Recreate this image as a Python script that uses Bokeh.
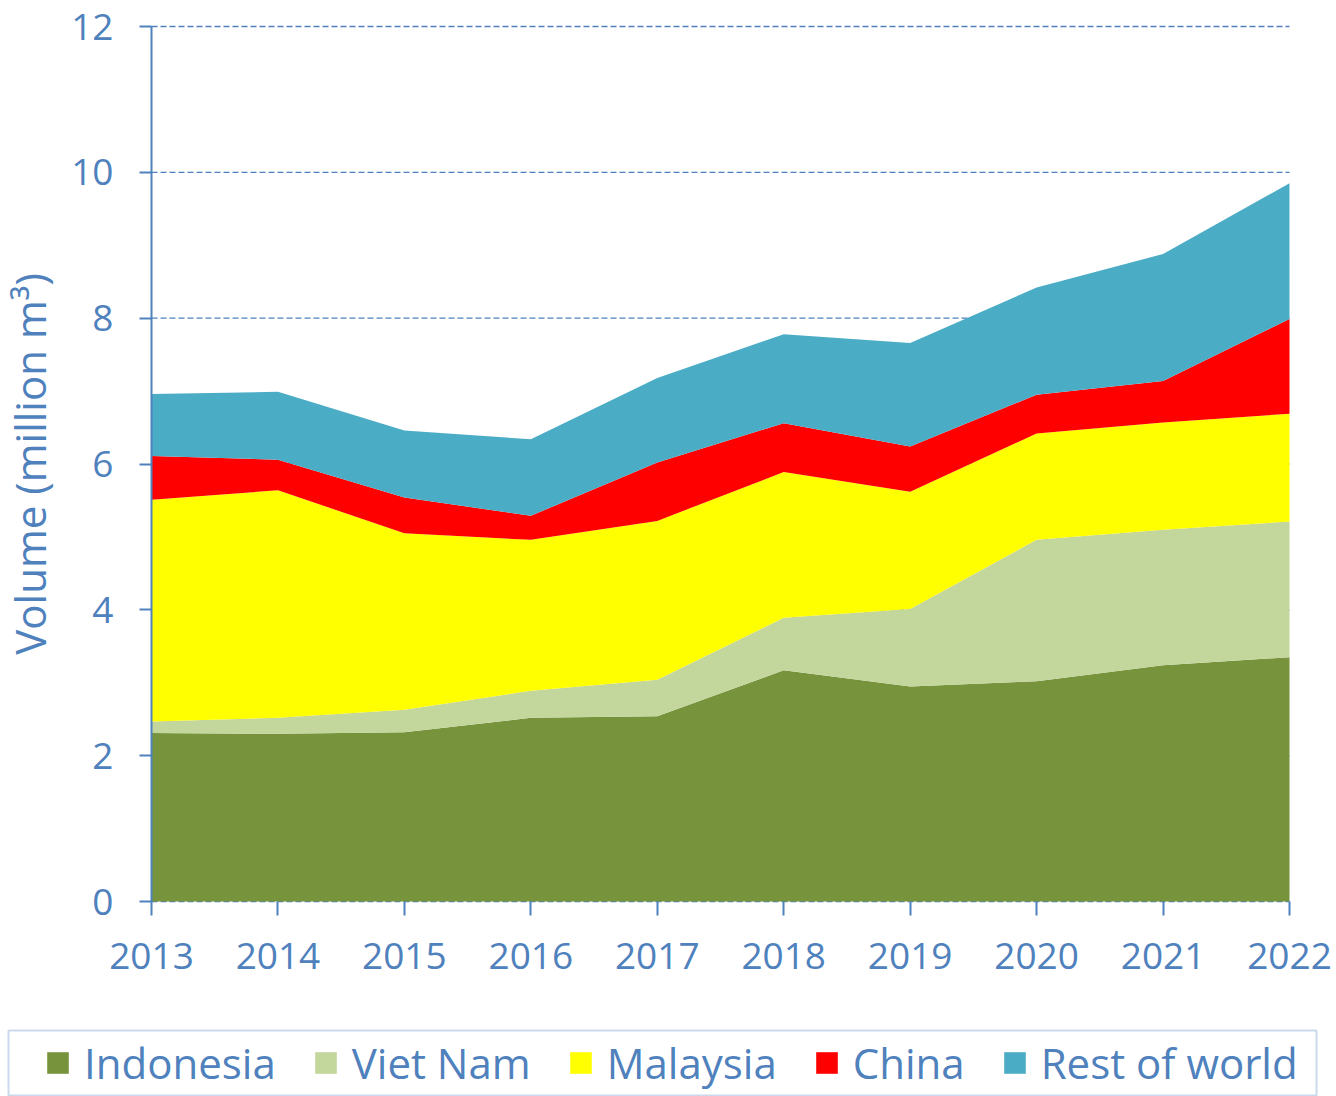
from bokeh.plotting import figure
from bokeh.models import ColumnDataSource, Range1d, FixedTicker, Legend, BoxAnnotation
from bokeh.embed import file_html
from bokeh.resources import INLINE

years = [2013, 2014, 2015, 2016, 2017, 2018, 2019, 2020, 2021, 2022]
indonesia = [2.31, 2.30, 2.32, 2.52, 2.54, 3.17, 2.95, 3.02, 3.24, 3.35]
viet_nam = [0.16, 0.22, 0.31, 0.37, 0.50, 0.72, 1.06, 1.94, 1.86, 1.86]
malaysia = [3.04, 3.12, 2.42, 2.07, 2.18, 2.00, 1.61, 1.46, 1.47, 1.48]
china = [0.60, 0.42, 0.49, 0.33, 0.80, 0.67, 0.62, 0.53, 0.57, 1.30]
rest_of_world = [0.85, 0.93, 0.92, 1.05, 1.16, 1.22, 1.42, 1.47, 1.74, 1.86]

series = ["Indonesia", "Viet Nam", "Malaysia", "China", "Rest of world"]
colors = ["#77933C", "#C3D69B", "#FFFF00", "#FF0000", "#4BACC6"]
y_ticks = [0, 2, 4, 6, 8, 10, 12]

TXT = "#4F81BD"

# layout (pixels): the frame fills the whole canvas; axes sit at fixed locations
W, H = 1336, 1096
PX_LEFT, PX_RIGHT = 151, 1289   # x of first / last year
PX_TOP, PX_BOTTOM = 26, 901     # y of 12 / 0
X0, X1 = years[0], years[-1]
Y0, Y1 = y_ticks[0], y_ticks[-1]
sx = (PX_RIGHT - PX_LEFT) / (X1 - X0)
sy = (PX_BOTTOM - PX_TOP) / (Y1 - Y0)
XS, XE = X0 - PX_LEFT / sx, X1 + (W - PX_RIGHT) / sx
YS, YE = Y0 - (H - PX_BOTTOM) / sy, Y1 + PX_TOP / sy


def dx(px):
    return XS + px / sx


def dy(py):
    return YE - py / sy


source = ColumnDataSource(data={
    "year": years,
    "Indonesia": indonesia,
    "Viet Nam": viet_nam,
    "Malaysia": malaysia,
    "China": china,
    "Rest of world": rest_of_world,
})

p = figure(width=W, height=H, output_backend="svg", toolbar_location=None,
           x_range=Range1d(XS, XE), y_range=Range1d(YS, YE),
           min_border=0, min_border_left=0, min_border_right=0,
           min_border_top=0, min_border_bottom=0)
p.outline_line_color = None
p.xgrid.visible = False
p.ygrid.visible = False

# dashed horizontal gridlines, only across the data span, beneath the areas
p.segment(x0=[X0] * len(y_ticks), x1=[X1] * len(y_ticks), y0=y_ticks, y1=y_ticks,
          line_color=TXT, line_width=1.3, line_dash="6 3", level="underlay")

renderers = p.varea_stack(stackers=series, x="year", color=colors, source=source)

# axes
p.yaxis.ticker = FixedTicker(ticks=y_ticks)
p.xaxis.ticker = FixedTicker(ticks=years)
p.yaxis.fixed_location = X0
p.xaxis.fixed_location = Y0
p.yaxis.bounds = (Y0, Y1)
p.xaxis.bounds = (X0, X1)
for ax in (p.xaxis[0], p.yaxis[0]):
    ax.axis_line_color = TXT
    ax.axis_line_width = 2
    ax.major_tick_line_color = TXT
    ax.major_tick_line_width = 2
    ax.major_tick_in = 0
    ax.minor_tick_line_color = None
    ax.major_label_text_color = TXT
    ax.major_label_text_font = "Open Sans"
    ax.major_label_text_font_size = "37px"
p.xaxis.axis_line_color = None
p.yaxis.major_tick_out = 12
p.xaxis.major_tick_out = 14
p.yaxis.major_label_standoff = 26
p.xaxis.major_label_standoff = 27
p.yaxis.axis_label = "Volume (million m³)"
p.yaxis.axis_label_text_color = TXT
p.yaxis.axis_label_text_font = "Open Sans"
p.yaxis.axis_label_text_font_size = "42px"
p.yaxis.axis_label_text_font_style = "normal"
p.yaxis.axis_label_standoff = 10

# legend frame
p.add_layout(BoxAnnotation(left=dx(8), right=dx(1316), top=dy(1030), bottom=dy(1095),
                           fill_alpha=0, line_color=TXT, line_width=2))

# legend
lg = Legend(items=[(name, [r]) for name, r in zip(series, renderers)])
lg.orientation = "horizontal"
lg.nrows = 1
lg.location = (44, 5)
lg.label_text_font = "Open Sans"
lg.label_text_font_size = "42px"
lg.label_text_color = TXT
lg.glyph_width = 27
lg.glyph_height = 27
lg.label_standoff = 13
lg.spacing = 36
lg.padding = 0
lg.margin = 0
lg.border_line_color = None
lg.background_fill_alpha = 0
p.add_layout(lg, "center")

open("out.html", "w").write(file_html(p, INLINE))
